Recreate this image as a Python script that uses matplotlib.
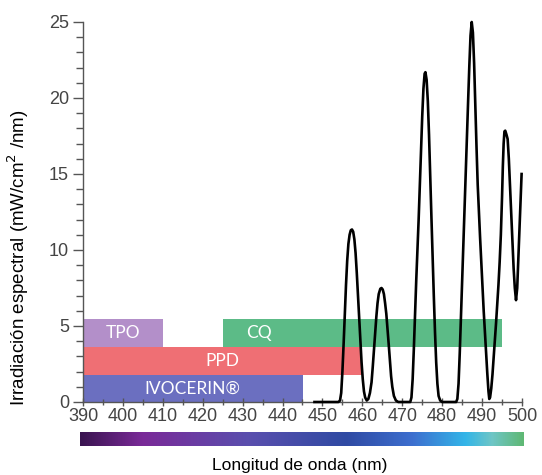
import numpy as np
import matplotlib
matplotlib.use("Agg")
import matplotlib.pyplot as plt
from matplotlib.colors import LinearSegmentedColormap

# spectrum (nm, mW/cm2/nm)
wl = [448.0, 454.0, 454.4, 454.7, 455.0, 455.3, 455.6, 455.9, 456.2, 456.5, 456.8, 457.1, 457.4,
      457.7, 458.0, 458.3, 458.6, 458.9, 459.2, 459.5, 459.8, 460.1, 460.4, 460.7, 461.1,
      461.5, 461.9, 462.3, 462.6, 462.9, 463.2, 463.5, 463.8, 464.1, 464.5, 464.8, 465.1, 465.4,
      465.7, 466.0, 466.3, 466.6, 466.9, 467.2, 467.5, 467.9, 468.4, 469.0, 472.0,
      472.3, 472.6, 472.9, 473.2, 473.5, 473.8, 474.1, 474.4, 474.7, 475.0, 475.3, 475.6, 475.8,
      476.1, 476.4, 476.7, 477.0, 477.3, 477.6, 477.9, 478.2, 478.5, 478.8, 479.1, 479.5, 480.0,
      483.5, 483.8, 484.1, 484.4, 484.7, 485.0, 485.3, 485.6, 485.9, 486.2, 486.5, 486.8, 487.1,
      487.4, 487.7, 488.0, 488.3, 488.6, 488.9, 489.2, 489.5, 489.8, 490.1, 490.4, 490.7, 491.0,
      491.3, 491.6, 491.8, 492.0,
      492.3, 492.6, 492.9, 493.2, 493.5, 493.8, 494.1, 494.4, 494.7, 495.0, 495.2, 495.4, 495.6,
      495.8, 496.1, 496.4, 496.7, 497.0, 497.3, 497.6, 497.9, 498.2, 498.5, 498.8, 499.1, 499.4,
      499.7, 499.9]
irr = [0.0, 0.0, 0.1, 0.6, 2.0, 3.8, 5.8, 7.7, 9.3, 10.4, 11.0, 11.3, 11.35,
       11.2, 10.7, 9.8, 8.5, 7.0, 5.5, 4.0, 2.6, 1.5, 0.7, 0.3, 0.1,
       0.2, 0.6, 1.3, 2.3, 3.4, 4.6, 5.6, 6.5, 7.1, 7.45, 7.5, 7.4, 7.1,
       6.5, 5.8, 4.8, 3.8, 2.7, 1.7, 1.0, 0.4, 0.1, 0.0, 0.0,
       0.3, 1.5, 3.5, 5.8, 8.0, 10.0, 12.0, 14.3, 16.6, 18.8, 20.6, 21.6, 21.7,
       21.2, 19.8, 17.6, 15.0, 12.2, 9.5, 7.0, 4.6, 2.6, 1.2, 0.4, 0.1, 0.0,
       0.0, 0.2, 1.2, 3.2, 5.6, 8.0, 10.3, 12.6, 15.0, 17.4, 19.8, 22.1, 24.1,
       25.0, 24.3, 22.3, 19.5, 16.8, 14.3, 12.5, 10.8, 9.2, 7.5, 6.0, 4.6, 3.2,
       1.9, 0.7, 0.2, 0.3,
       0.9, 1.8, 2.9, 4.0, 5.2, 6.4, 7.7, 9.2, 11.0, 13.5, 15.5, 17.0, 17.8,
       17.85, 17.6, 17.3, 16.0, 14.2, 12.3, 10.5, 8.8, 7.5, 6.7, 7.5, 9.5, 11.5,
       13.5, 15.0]

# absorption ranges of the photoinitiators
names = ["IVOCERIN®", "PPD", "TPO", "CQ"]
starts = [390, 390, 390, 425]
ends = [445, 460, 410, 495]
lows = [0.0, 1.75, 3.6, 3.6]
highs = [1.75, 3.6, 5.45, 5.45]
label_x = [417.5, 425, 400, 434]
colors = ["#6b6fc0", "#ef6f74", "#b38fc9", "#5cbb87"]

# gradient under the axis
grad_pos = [0.0, 0.14, 0.38, 0.6, 0.75, 0.87, 0.93, 1.0]
grad_col = ["#3a1450", "#7a2a98", "#5a4fae", "#2f4aa3", "#3d6fcf", "#33b5e8", "#6ec6c6", "#5fb874"]

fig = plt.figure(figsize=(5.42, 4.75), dpi=100)
ax = fig.add_axes([83/542, 73/475, 439/542, 380/475])

for n, s, e, lo, hi, lx, c in zip(names, starts, ends, lows, highs, label_x, colors):
    ax.bar(s, hi - lo, width=e - s, bottom=lo, align='edge', color=c, edgecolor='none', zorder=1)
    ax.text(lx, (lo + hi) / 2, n, color='white', ha='center', va='center',
            fontsize=12.5, family='Lato', zorder=2)

ax.plot(wl, irr, color='black', lw=1.9, zorder=3, clip_on=False, solid_joinstyle='round')

ax.set_xlim(390, 500)
ax.set_ylim(0, 25)
ax.set_xticks(np.arange(390, 501, 10))
ax.set_xticks(np.arange(395, 500, 10), minor=True)
ax.set_yticks(np.arange(0, 26, 5))
ax.set_yticks(np.arange(0, 26, 1), minor=True)
for sp in ['top', 'right']:
    ax.spines[sp].set_visible(False)
for sp in ['left', 'bottom']:
    ax.spines[sp].set_color('#555555')
    ax.spines[sp].set_linewidth(1.0)
ax.tick_params(axis='x', which='major', direction='inout', length=6, width=1, color='#555555',
               labelsize=13, labelcolor='#444444', pad=1)
ax.tick_params(axis='x', which='minor', direction='inout', length=5, width=1, color='#555555')
ax.tick_params(axis='y', which='major', direction='out', length=7, width=1, color='#555555',
               labelsize=13, labelcolor='#444444', pad=3)
ax.tick_params(axis='y', which='minor', direction='out', length=5, width=1, color='#555555')
for lab in ax.get_xticklabels() + ax.get_yticklabels():
    lab.set_family('Liberation Sans')

ax.set_ylabel('Irradiación espectral (mW/cm$^2$ /nm)', fontsize=13.5, family='Liberation Sans')
ax.yaxis.set_label_coords(-0.118, 0.38)

cmap = LinearSegmentedColormap.from_list('wl', list(zip(grad_pos, grad_col)))
cax = fig.add_axes([80/542, 29/475, 444/542, 14/475])
cax.imshow(np.linspace(0, 1, 256)[None, :], aspect='auto', cmap=cmap)
cax.axis('off')

fig.text(300/542, 2/475, 'Longitud de onda (nm)', ha='center', va='bottom', fontsize=12.5,
         family='Liberation Sans')

fig.savefig('out.png', dpi=100)
